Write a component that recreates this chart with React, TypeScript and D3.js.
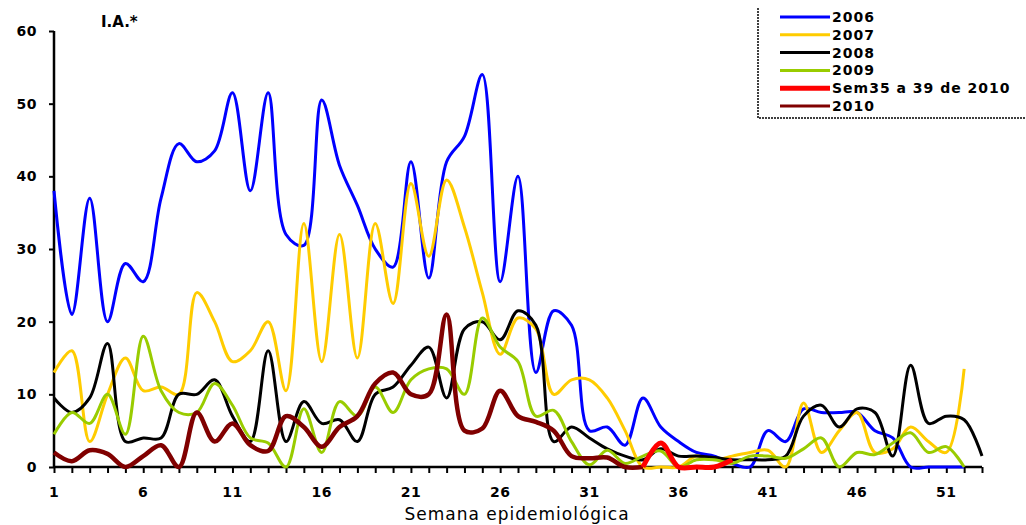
import { useEffect, useRef } from "react";
import * as d3 from "d3";

// incidence (I.A.*) per epidemiological week
const weeks = d3.range(1, 54);
const s2006 = [38, 21, 37, 20, 28, 25.5, 37, 44.5, 42, 43.5, 51.5, 38, 51.5, 32, 30.5, 50.5, 41.5, 36, 30, 27.5, 42, 26, 42, 45.5, 54, 25.5, 40, 13, 21.5, 19.5, 5, 5.5, 3, 9.5, 5.5, 3.5, 2, 1.5, 0.5, 0, 5, 3.5, 8, 7.5, 7.5, 7.5, 5, 4, 0, 0, 0, 0];
const s2007 = [13, 16, 3.5, 10, 15, 10.5, 11, 10, 24, 20, 14.5, 16, 20, 10.5, 33.5, 14.5, 32, 15, 33.5, 22.5, 39, 29, 39.5, 33, 24, 15.5, 20.5, 19, 10, 12, 12, 9.5, 5, 0, 0, 0, 1.5, 1, 1.5, 2, 2.3, 0, 8.8, 2, 5, 7.5, 2, 2.5, 5.5, 3.5, 2, 13.5];
const s2008 = [9.5, 7.5, 9.5, 17, 3.5, 4, 4, 10, 10, 12, 7, 3.5, 16, 3.5, 9, 6, 6.5, 3.5, 10, 11, 14, 16.5, 9.5, 19, 20, 17.5, 21.5, 19.5, 3.5, 5.5, 4, 2.5, 1.5, 1, 2.5, 1.5, 1.5, 1.3, 1, 1, 1, 1.5, 7, 8.5, 5.5, 8, 7.5, 1.5, 14, 6, 7, 6.5, 1.5];
const s2009 = [4.5, 7.5, 6, 10, 4.5, 18, 10.5, 7.5, 7.5, 11.5, 8.5, 4, 3.3, 0, 8, 2, 9, 7, 11, 7.5, 12, 13.5, 13.5, 10, 20.5, 16.5, 14.5, 7, 7.8, 3.5, 0.3, 2.3, 0.5, 1.5, 2.2, 0, 1, 1, 0.5, 1.5, 1.5, 1.2, 2.5, 4, 0, 2, 1.7, 3.3, 4.7, 2, 2.8, 0];
const s2010 = [2, 0.8, 2.3, 1.8, 0, 1.5, 3, 0, 7.5, 3.5, 6, 3, 2.2, 7, 5.5, 2.8, 5.5, 7, 11.5, 13, 10, 10, 21, 5, 5.3, 10.5, 7, 6.2, 5, 1.5, 1.2, 1.3, 0, 0];
const sem35Weeks = [34, 35, 36, 37, 38, 39];
const sem35 = [0, 3.3, 0, 0, 0, 1];

const seriesNames = ["2006", "2007", "2008", "2009", "Sem35 a 39 de 2010", "2010"];
const seriesColors = ["#0000ff", "#ffcc00", "#000000", "#99cc00", "#ff0000", "#800000"];
const seriesWidths = [3, 3, 3, 3, 5, 4.5];
const yTicks = [0, 10, 20, 30, 40, 50, 60];
const xTicks = [1, 6, 11, 16, 21, 26, 31, 36, 41, 46, 51];

function App() {
  const svgRef = useRef<SVGSVGElement>(null);

  useEffect(() => {
    const width = 1026;
    const height = 525;
    const font = "'DejaVu Sans', sans-serif";

    const x = d3.scaleLinear().domain([1, 53]).range([54, 982]);
    const y = d3.scaleLinear().domain([0, 60]).range([467, 31]);

    const svg = d3.select(svgRef.current).attr("width", width).attr("height", height);
    svg.selectAll("*").remove();

    // axes
    const yAxis = svg
      .append("g")
      .attr("transform", "translate(54,0)")
      .call(d3.axisLeft(y).tickValues(yTicks).tickSize(5).tickPadding(12));
    yAxis.select(".domain").attr("stroke", "#000").attr("stroke-width", 2.5).attr("d", "M0,31V467");
    yAxis.selectAll(".tick line").attr("stroke-width", 2);
    yAxis
      .selectAll(".tick text")
      .style("font-family", font)
      .style("font-size", "14px")
      .style("font-weight", "bold")
      .style("letter-spacing", "0.5px");

    const xAxis = svg
      .append("g")
      .attr("transform", "translate(0,467)")
      .call(d3.axisBottom(x).tickValues(weeks).tickSize(6).tickFormat(() => ""));
    xAxis.select(".domain").attr("stroke", "#000").attr("stroke-width", 2.5).attr("d", "M54,0H982");
    xAxis.selectAll(".tick line").attr("stroke-width", 2);

    svg
      .append("g")
      .selectAll("text")
      .data(xTicks)
      .enter()
      .append("text")
      .attr("x", (d) => x(d))
      .attr("y", 497)
      .attr("text-anchor", "middle")
      .style("font-family", font)
      .style("font-size", "14px")
      .style("font-weight", "bold")
      .style("letter-spacing", "0.5px")
      .text((d) => d);

    svg
      .append("text")
      .attr("x", 517)
      .attr("y", 520)
      .attr("text-anchor", "middle")
      .style("font-family", font)
      .style("font-size", "17px")
      .style("letter-spacing", "1px")
      .text("Semana epidemiológica");

    svg
      .append("text")
      .attr("x", 101)
      .attr("y", 27)
      .style("font-family", font)
      .style("font-size", "15px")
      .style("font-weight", "bold")
      .text("I.A.*");

    // lines
    const line = d3
      .line<[number, number]>()
      .x((d) => x(d[0]))
      .y((d) => y(d[1]))
      .curve(d3.curveCatmullRom.alpha(0.5));

    const allSeries: [number, number][][] = [
      s2006.map((v, i) => [weeks[i], v]),
      s2007.map((v, i) => [weeks[i], v]),
      s2008.map((v, i) => [weeks[i], v]),
      s2009.map((v, i) => [weeks[i], v]),
      sem35.map((v, i) => [sem35Weeks[i], v]),
      s2010.map((v, i) => [weeks[i], v]),
    ];
    const drawOrder = [0, 1, 2, 3, 5, 4];

    drawOrder.forEach((k) => {
      svg
        .append("path")
        .datum(allSeries[k])
        .attr("d", line)
        .attr("fill", "none")
        .attr("stroke", seriesColors[k])
        .attr("stroke-width", seriesWidths[k])
        .attr("stroke-linejoin", "round");
    });

    // legend
    const legend = svg.append("g");
    legend
      .append("path")
      .attr("d", "M758,8V118H1026")
      .attr("fill", "none")
      .attr("stroke", "#000")
      .attr("stroke-width", 1.5)
      .attr("stroke-dasharray", "2,1");

    const rowY = d3.scaleLinear().domain([0, 5]).range([17, 106]);
    seriesNames.forEach((name, i) => {
      legend
        .append("line")
        .attr("x1", 780)
        .attr("x2", 830)
        .attr("y1", rowY(i))
        .attr("y2", rowY(i))
        .attr("stroke", seriesColors[i])
        .attr("stroke-width", i === 4 ? 5 : 3);
      legend
        .append("text")
        .attr("x", 832)
        .attr("y", rowY(i))
        .attr("dy", "0.36em")
        .style("font-family", font)
        .style("font-size", "14px")
        .style("font-weight", "bold")
        .style("letter-spacing", "1px")
        .text(name);
    });
  }, []);

  return (
    <svg
      ref={svgRef}
      style={{ position: "absolute", left: 0, top: 0, background: "#fff" }}
    ></svg>
  );
}

export default App;
